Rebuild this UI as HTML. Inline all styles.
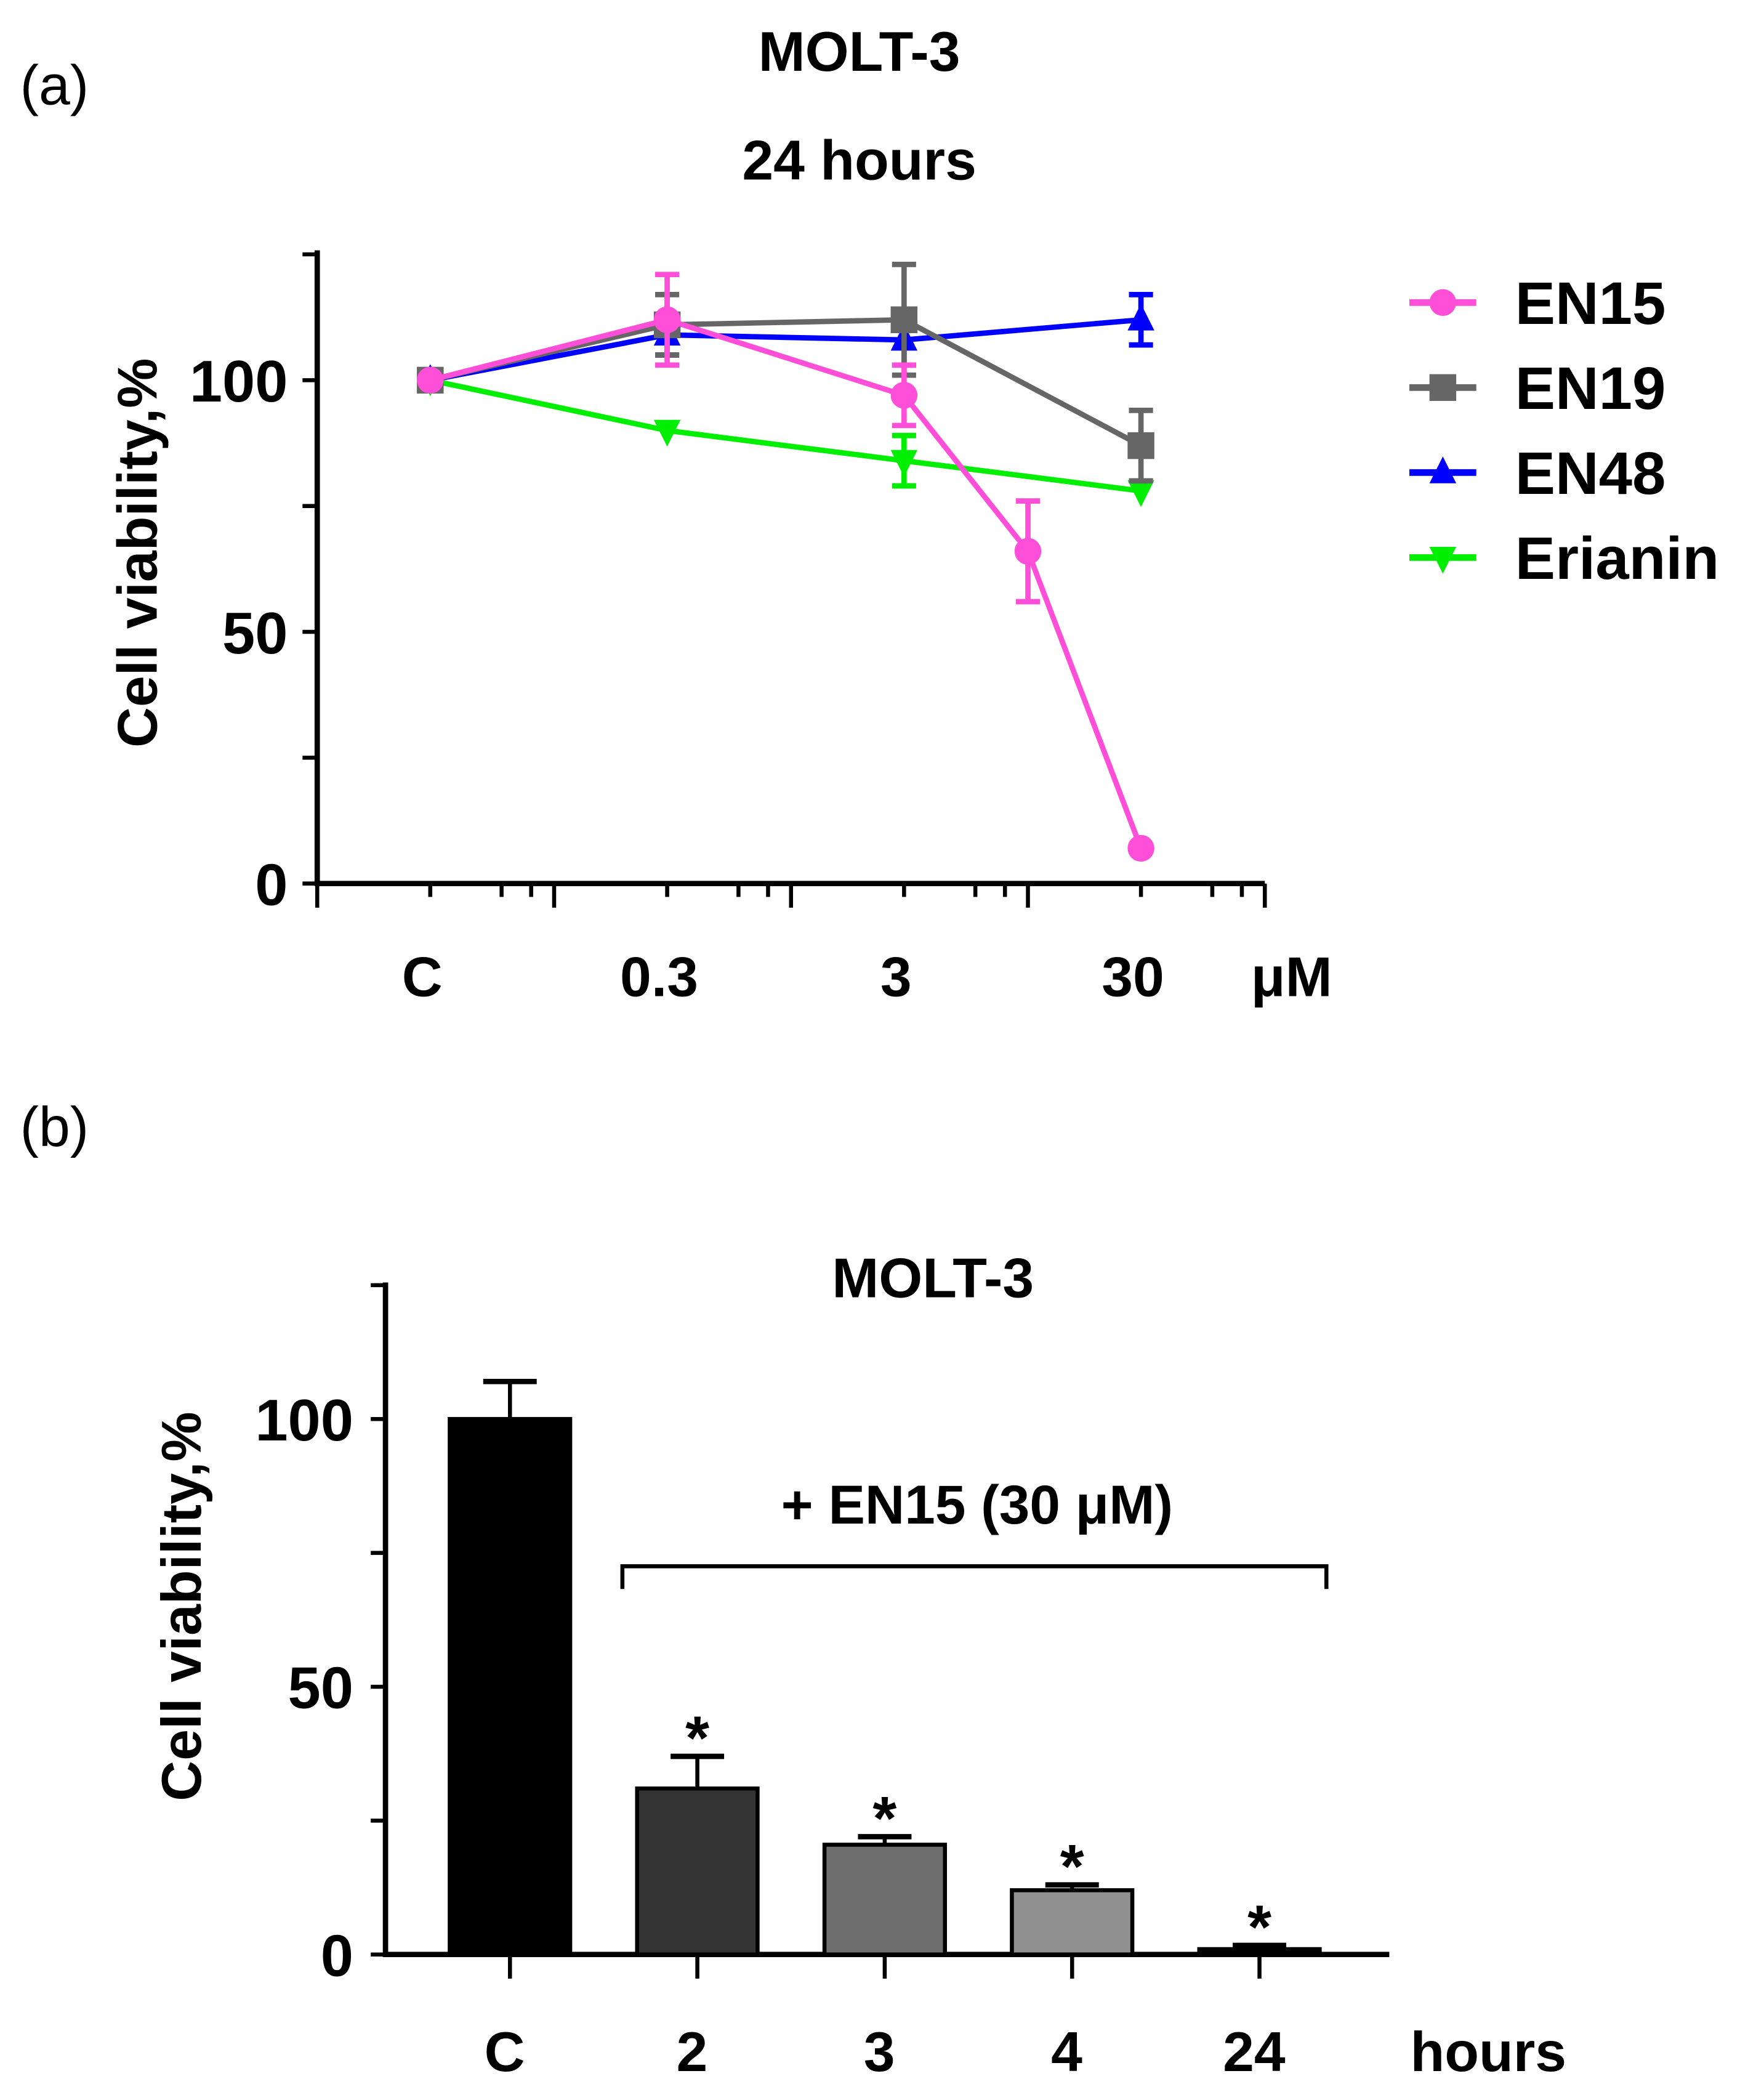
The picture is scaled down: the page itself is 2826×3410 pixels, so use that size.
<!DOCTYPE html>
<html><head><meta charset="utf-8"><style>
html,body{margin:0;padding:0;background:#fff}
svg{display:block}
text{font-family:"Liberation Sans",sans-serif}
</style></head><body>
<svg id="fig" width="2826" height="3410" viewBox="0 0 1300 1568.7" xmlns="http://www.w3.org/2000/svg">
<text x="15" y="78" font-size="42">(a)</text>
<text x="642" y="53" font-size="42" font-weight="bold" text-anchor="middle">MOLT-3</text>
<text x="642" y="134" font-size="42" font-weight="bold" text-anchor="middle">24 hours</text>
<text transform="translate(117,413) rotate(-90)" font-size="42" font-weight="bold" text-anchor="middle">Cell viability,%</text>
<g id="a"></g>
<text x="15" y="856" font-size="42">(b)</text>
<text x="697" y="969" font-size="42" font-weight="bold" text-anchor="middle">MOLT-3</text>
<text transform="translate(150,1200) rotate(-90)" font-size="42" font-weight="bold" text-anchor="middle">Cell viability,%</text>
<text x="730" y="1138" font-size="41" font-weight="bold" text-anchor="middle">+ EN15 (30 μM)</text>
<path d="M465,1187 V1170 H991 V1187" fill="none" stroke="#000" stroke-width="3"/>
<g id="b"></g>
</svg>
<script>
// Panel a data
const concs=[0.03,0.3,3,10,30];
const en15=[100,112,97,66,7];
const en15Err=[1,9,6,10,1];
const en19=[100,111,112,null,87];
const en19Err=[1,6,11,0,7];
const en48=[100,109,108,null,112];
const en48Err=[1,4,5,0,5];
const erianin=[100,90,84,null,78];
const erianinErr=[1,1,5,0,1];
const xTickLabelsA=["C","0.3","3","30"];
const xTickValsA=[0.03,0.3,3,30];
const yTicksA=[0,50,100];
// Panel b data
const barCats=["C","2","3","4","24"];
const barVals=[100,31,20.5,12,1];
const barErr=[7,6,1.5,1,0.7];
const barStars=[false,true,true,true,true];
const yTicksB=[0,50,100];

const NS="http://www.w3.org/2000/svg";
function mk(p,tag,at){const e=document.createElementNS(NS,tag);for(const k in at)e.setAttribute(k,at[k]);p.appendChild(e);return e;}
const A=document.getElementById('a');
const xa=v=>237+177*(Math.log10(v)+2);
const ya=v=>660-v*3.76;
let e;
e=mk(A,'path',{d:'M237,187 V660 H945',fill:'none',stroke:'#000','stroke-width':4});


[0,25,50,75,100,125].forEach(v=>{e=mk(A,'line',{x1:226,x2:237,y1:ya(v),y2:ya(v),stroke:'#000','stroke-width':3});

});
yTicksA.forEach(v=>{e=mk(A,'text',{x:215,y:ya(v)+16,'font-size':44,'font-weight':'bold','text-anchor':'end'});e.textContent=v;

});
for(let d=-2;d<=2;d++){const base=Math.pow(10,d);
 e=mk(A,'line',{x1:xa(base),x2:xa(base),y1:660,y2:678,stroke:'#000','stroke-width':3});
 
 
 if(d<2)[3,6,8].forEach(m=>{e=mk(A,'line',{x1:xa(base*m),x2:xa(base*m),y1:660,y2:670,stroke:'#000','stroke-width':3});
 
 });}
xTickValsA.forEach((v,i)=>{e=mk(A,'text',{x:xa(v)-6,y:744,'font-size':42,'font-weight':'bold','text-anchor':'middle'});e.textContent=xTickLabelsA[i];

});
e=mk(A,'text',{x:965,y:744,'font-size':42,'font-weight':'bold','text-anchor':'middle'});e.textContent='μM';


const series=[
 {n:'erianin',v:erianin,er:erianinErr,c:'#00ee00',m:'tdown',lab:'Erianin'},
 {n:'en48',v:en48,er:en48Err,c:'#0000ff',m:'tup',lab:'EN48'},
 {n:'en19',v:en19,er:en19Err,c:'#666666',m:'sq',lab:'EN19'},
 {n:'en15',v:en15,er:en15Err,c:'#ff4fd8',m:'circ',lab:'EN15'}];
function marker(g,m,x,y,c){
 if(m==='circ')return mk(g,'circle',{cx:x,cy:y,r:10,fill:c});
 if(m==='sq')return mk(g,'rect',{x:x-10,y:y-10,width:20,height:20,fill:c});
 if(m==='tup')return mk(g,'path',{d:`M${x},${y-12} L${x+10},${y+8} L${x-10},${y+8}Z`,fill:c});
 return mk(g,'path',{d:`M${x},${y+12} L${x+10},${y-8} L${x-10},${y-8}Z`,fill:c});}
series.forEach(s=>{
 const g=mk(A,'g',{});
 
 
 const pts=[];s.v.forEach((v,i)=>{if(v!==null)pts.push([xa(concs[i]),ya(v),s.er[i]]);});
 e=mk(g,'polyline',{points:pts.map(p=>p[0]+','+p[1]).join(' '),fill:'none',stroke:s.c,'stroke-width':4});
 
 
 pts.forEach(p=>{const d=p[2]*3.76;if(d>4){
  e=mk(g,'path',{d:`M${p[0]},${p[1]-d} V${p[1]+d} M${p[0]-9},${p[1]-d} H${p[0]+9} M${p[0]-9},${p[1]+d} H${p[0]+9}`,stroke:s.c,'stroke-width':4,fill:'none'});
  
  }
  e=marker(g,s.m,p[0],p[1],s.c);
  
  });
});
const legOrder=[3,2,1,0];
legOrder.forEach((si,k)=>{const s=series[si];const y=226+k*63.5;
 const g=mk(A,'g',{});
 
 
 mk(g,'line',{x1:1053,x2:1103,y1:y,y2:y,stroke:s.c,'stroke-width':5});
 marker(g,s.m,1078,y,s.c);
 const t=mk(g,'text',{x:1132,y:y+16,'font-size':45,'font-weight':'bold'});t.textContent=s.lab;});

// Panel b
const B=document.getElementById('b');
const yb=v=>1460-v*4;
const xb=i=>381+i*140;
e=mk(B,'path',{d:'M288,958 V1460 H1038',fill:'none',stroke:'#000','stroke-width':4});


[0,25,50,75,100,125].forEach(v=>{e=mk(B,'line',{x1:277,x2:288,y1:yb(v),y2:yb(v),stroke:'#000','stroke-width':3});

});
yTicksB.forEach(v=>{e=mk(B,'text',{x:264,y:yb(v)+16,'font-size':44,'font-weight':'bold','text-anchor':'end'});e.textContent=v;

});
const fills=['#000','#333','#6e6e6e','#909090','#000'];
barCats.forEach((c,i)=>{const x=xb(i),v=barVals[i],t=yb(v),er=barErr[i]*4;
 e=mk(B,'line',{x1:x,x2:x,y1:t-er,y2:t,stroke:'#000','stroke-width':3});
 
 
 mk(B,'line',{x1:x-20,x2:x+20,y1:t-er,y2:t-er,stroke:'#000','stroke-width':4});
 e=mk(B,'rect',{x:x-45,y:t,width:90,height:1460-t,fill:fills[i],stroke:'#000','stroke-width':3});
 
 
 e=mk(B,'line',{x1:x,x2:x,y1:1460,y2:1478,stroke:'#000','stroke-width':3});
 
 
 e=mk(B,'text',{x:x-4,y:1547,'font-size':42,'font-weight':'bold','text-anchor':'middle'});e.textContent=c;
 
 
 if(barStars[i]){e=mk(B,'text',{x:x,y:t-er+2,'font-size':46,'font-weight':'bold','text-anchor':'middle'});e.textContent='*';
 
 }
});
e=mk(B,'text',{x:1112,y:1547,'font-size':42,'font-weight':'bold','text-anchor':'middle'});e.textContent='hours';


</script>
</body></html>
